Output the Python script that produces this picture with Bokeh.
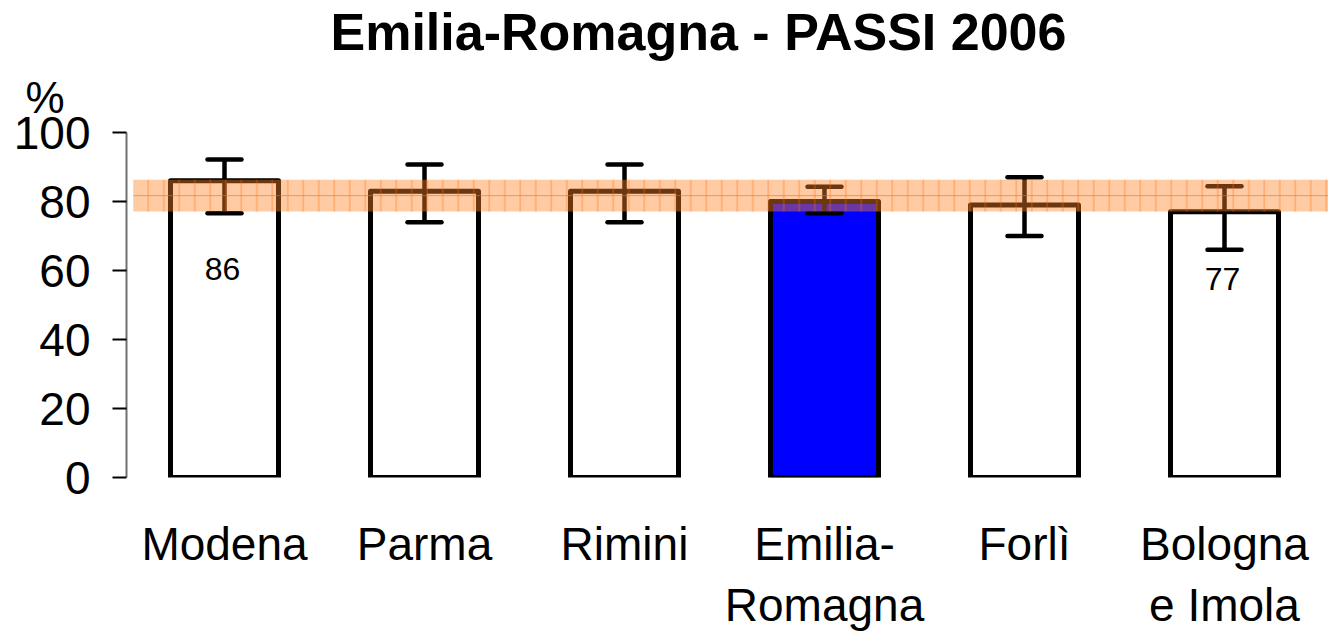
from bokeh.plotting import figure
from bokeh.models import Range1d, FixedTicker, Label, ColumnDataSource, Title, LinearAxis
from bokeh.embed import file_html
from bokeh.resources import INLINE

# ---- data ----
categories = ["Modena", "Parma", "Rimini", "Emilia-\nRomagna", "Forlì", "Bologna\ne Imola"]
values = [86, 83, 83, 80, 79, 77]
ci_low = [76.6, 74.0, 74.0, 76.6, 70.0, 66.0]
ci_high = [92.2, 90.7, 90.7, 84.3, 87.0, 84.4]
band_low = 77.1
band_high = 86.3
value_labels = ["86", "", "", "", "", "77"]
y_ticks = [0, 20, 40, 60, 80, 100]
title_text = "Emilia-Romagna  -  PASSI 2006"
y_unit = "%"

FONT = "Liberation Sans"
n = len(categories)
xs = list(range(n))
fills = ["#0000FF" if "Emilia" in c else "white" for c in categories]

p = figure(width=1328, height=638, output_backend="svg", toolbar_location=None,
           title=None,
           x_range=Range1d(-0.49, 5.52), y_range=Range1d(0, 100),
           min_border_left=126, min_border_right=0, min_border_top=132,
           min_border_bottom=161, x_axis_location=None)
p.outline_line_color = None
p.xgrid.visible = False
p.ygrid.visible = False
p.background_fill_color = "white"

# "%" unit label (closest to the frame) and the main title
p.add_layout(Title(text=y_unit, text_font=FONT, text_font_size="44px",
                   text_font_style="normal", text_color="black",
                   align="left", offset=-101, standoff=21), "above")
p.add_layout(Title(text=title_text, text_font=FONT, text_font_size="52px",
                   text_font_style="bold", text_color="black",
                   align="left", offset=204, standoff=0), "above")

# bars
src = ColumnDataSource(dict(x=xs, top=values, fill=fills, lo=ci_low, hi=ci_high))
p.vbar(x="x", top="top", bottom=0, width=0.54, source=src, fill_color="fill",
       line_color="black", line_width=5, line_join="round")

# error bars
cap = 0.085
p.segment(x0="x", y0="lo", x1="x", y1="hi", source=src, line_color="black",
          line_width=4.5)
p.segment(x0=[x - cap for x in xs], y0=ci_low, x1=[x + cap for x in xs], y1=ci_low,
          line_color="black", line_width=4.5, line_cap="round")
p.segment(x0=[x - cap for x in xs], y0=ci_high, x1=[x + cap for x in xs], y1=ci_high,
          line_color="black", line_width=4.5, line_cap="round")

# regional band (semi-transparent, over the bars)
p.quad(left=-0.455, right=5.52, bottom=band_low, top=band_high,
       fill_color="#FF8228", fill_alpha=0.42, line_color=None,
       hatch_pattern="|", hatch_color="#FF6A00", hatch_alpha=0.55,
       hatch_scale=15.5, hatch_weight=1)
p.line(x=[-0.455, 5.52], y=[(band_low + band_high) / 2] * 2,
       line_color="#FF6A00", line_alpha=0.6, line_width=1)

# value labels
label_y = {0: 60.5, 5: 57.5}
for i, t in enumerate(value_labels):
    if t:
        p.add_layout(Label(x=xs[i] - 0.01, y=label_y[i], text=t, text_font=FONT,
                           text_font_size="32px", text_align="center",
                           text_baseline="middle", text_color="black"))

# y axis
ya = p.yaxis[0]
ya.ticker = FixedTicker(ticks=y_ticks)
ya.axis_line_color = "#707070"
ya.axis_line_width = 2
ya.major_tick_line_color = "black"
ya.major_tick_line_width = 2
ya.major_tick_out = 14
ya.major_tick_in = 0
ya.minor_tick_line_color = None
ya.major_label_text_font = FONT
ya.major_label_text_font_size = "46px"
ya.major_label_text_color = "black"
ya.major_label_standoff = 22

# x axes: first and second line of each category name
line1 = {i: c.split("\n")[0] for i, c in enumerate(categories)}
line2 = {i: (c.split("\n")[1] if "\n" in c else "") for i, c in enumerate(categories)}
for k, (lab, standoff) in enumerate([(line1, 40), (line2, 6)]):
    ax = LinearAxis(ticker=FixedTicker(ticks=xs), major_label_overrides=lab)
    ax.axis_line_color = None
    ax.major_tick_line_color = None
    ax.minor_tick_line_color = None
    ax.major_tick_out = 0
    ax.major_tick_in = 0
    ax.major_label_text_font = FONT
    ax.major_label_text_font_size = "46px"
    ax.major_label_text_color = "black"
    ax.major_label_standoff = standoff
    p.add_layout(ax, "below")

open("out.html", "w").write(file_html(p, INLINE))
